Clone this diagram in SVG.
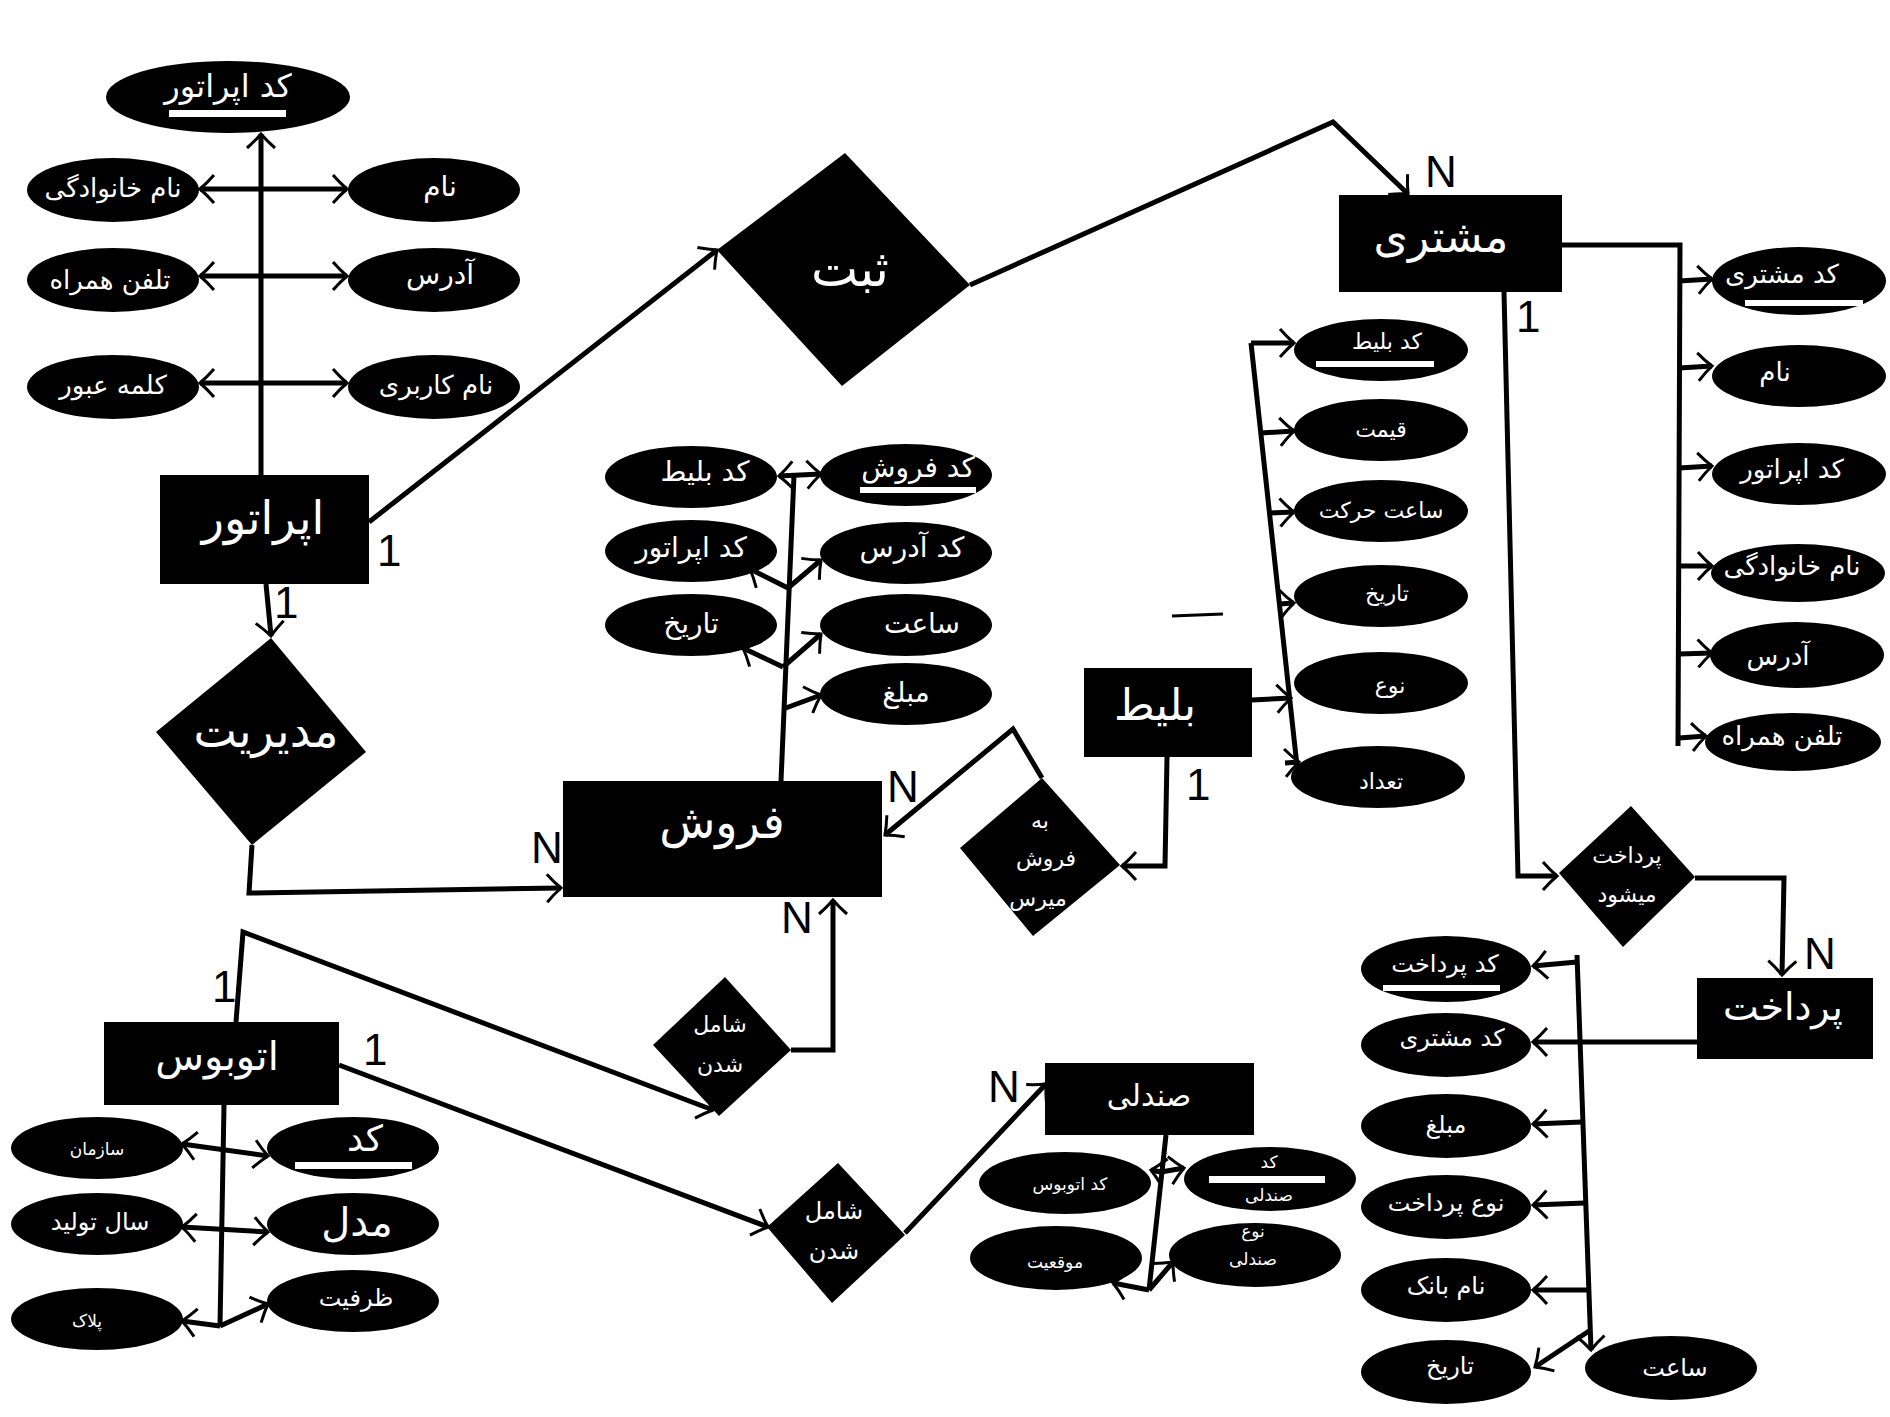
<svg xmlns="http://www.w3.org/2000/svg" width="1890" height="1417" viewBox="0 0 1890 1417">
<defs>
<marker id="a" viewBox="0 0 20 32" refX="17" refY="16" markerWidth="20" markerHeight="32" markerUnits="userSpaceOnUse" orient="auto-start-reverse">
<path d="M3,2 Q10,10 17,16 Q10,22 3,30" fill="none" stroke="#000" stroke-width="3"/>
</marker>
<style>
.c path{fill:none;stroke:#000;stroke-width:5;stroke-linejoin:miter}
.ar{marker-end:url(#a)}
.ab{marker-end:url(#a);marker-start:url(#a)}
ellipse,rect.n,polygon{fill:#000}
.t{fill:#fff;font-family:"DejaVu Sans",sans-serif;text-anchor:middle;dominant-baseline:central}
.u{fill:#fff}
.l{fill:#000;font-family:"Liberation Sans",sans-serif;font-size:44px}
</style>
</defs>
<rect width="1890" height="1417" fill="#fff"/>

<g id="connectors" class="c">
<!-- operator -->
<path class="ar" d="M261,475 L261,134"/>
<path class="ab" d="M200,189 L347,189"/>
<path class="ab" d="M200,276 L347,276"/>
<path class="ab" d="M200,383 L347,383"/>
<path class="ar" d="M369,522 L717,250"/>
<path class="ar" d="M970,285 L1333,122 L1408,194"/>
<path class="ar" d="M266,584 L271,636"/>
<path class="ar" d="M252,845 L249,893 L561,888"/>
<!-- sale -->
<path d="M781,781 L794,475"/>
<path class="ab" d="M779,476 L821,474"/>
<path class="ar" d="M788,588 L750,569"/>
<path class="ar" d="M788,588 L821,560"/>
<path class="ar" d="M783,667 L743,648"/>
<path class="ar" d="M783,667 L821,634"/>
<path class="ar" d="M783,709 L821,695"/>
<path class="ar" d="M1042,778 L1013,729 L885,835"/>
<path class="ar" d="M1167,757 L1165,866 L1122,866"/>
<!-- ticket -->
<path d="M1251,343 L1297,766"/>
<path class="ar" d="M1251,343 L1294,343"/>
<path class="ar" d="M1261,433 L1294,431"/>
<path class="ar" d="M1269,513 L1294,512"/>
<path class="ar" d="M1279,604 L1294,603"/>
<path class="ar" d="M1252,700 L1291,698"/>
<path class="ar" d="M1285,763 L1299,762"/>
<path d="M1172,616 L1223,614" style="stroke-width:3"/>
<!-- customer -->
<path d="M1562,245 L1680,245 L1678,746"/>
<path class="ar" d="M1679,281 L1712,279"/>
<path class="ar" d="M1679,368 L1712,366"/>
<path class="ar" d="M1679,468 L1712,466"/>
<path class="ar" d="M1679,566 L1712,566"/>
<path class="ar" d="M1679,654 L1712,653"/>
<path class="ar" d="M1679,738 L1706,736"/>
<path class="ar" d="M1504,292 L1518,876 L1557,876"/>
<path class="ar" d="M1695,878 L1784,878 L1782,975"/>
<!-- payment -->
<path class="ar" d="M1697,1042 L1533,1042"/>
<path class="ar" d="M1577,955 L1591,1350"/>
<path class="ar" d="M1577,962 L1533,966"/>
<path class="ar" d="M1582,1122 L1533,1124"/>
<path class="ar" d="M1585,1203 L1533,1205"/>
<path class="ar" d="M1588,1290 L1533,1290"/>
<path class="ar" d="M1589,1331 L1535,1367"/>
<!-- bus -->
<path class="ar" d="M236,1022 L243,932 L713,1110"/>
<path class="ar" d="M339,1065 L768,1227"/>
<path class="ar" d="M791,1050 L833,1050 L833,900"/>
<path class="ar" d="M905,1233 L1046,1084"/>
<path d="M224,1105 L220,1326"/>
<path class="ab" d="M182,1144 L268,1156"/>
<path class="ab" d="M182,1227 L268,1232"/>
<path class="ar" d="M220,1326 L182,1321"/>
<path class="ar" d="M220,1326 L268,1304"/>
<!-- seat -->
<path d="M1166,1135 L1149,1290"/>
<path class="ar" d="M1161,1172 L1184,1168"/>
<path class="ar" d="M1161,1172 L1151,1170"/>
<path class="ar" d="M1149,1290 L1113,1283"/>
<path class="ar" d="M1149,1290 L1173,1262"/>
</g>

<!-- operator entity and attributes -->
<g id="operator"><rect class="n" x="160" y="475" width="209" height="109"/><text class="t" x="263" y="518" font-size="46">اپراتور</text></g>
<g id="op-code"><ellipse cx="228" cy="97" rx="122" ry="36"/><text class="t" x="228" y="86" font-size="32">کد اپراتور</text><rect class="u" x="169" y="110" width="117" height="7"/></g>
<g id="op-family"><ellipse cx="113" cy="190" rx="86" ry="32"/><text class="t" x="113" y="188" font-size="26">نام خانوادگی</text></g>
<g id="op-name"><ellipse cx="434" cy="190" rx="86" ry="32"/><text class="t" x="440" y="186" font-size="28">نام</text></g>
<g id="op-phone"><ellipse cx="113" cy="280" rx="86" ry="32"/><text class="t" x="110" y="280" font-size="26">تلفن همراه</text></g>
<g id="op-address"><ellipse cx="434" cy="280" rx="86" ry="32"/><text class="t" x="440" y="274" font-size="28">آدرس</text></g>
<g id="op-password"><ellipse cx="113" cy="387" rx="86" ry="32"/><text class="t" x="113" y="385" font-size="26">کلمه عبور</text></g>
<g id="op-username"><ellipse cx="434" cy="387" rx="86" ry="32"/><text class="t" x="436" y="385" font-size="26">نام کاربری</text></g>
<text class="l" x="377" y="566">1</text>
<text class="l" x="274" y="618">1</text>

<!-- register relation -->
<g id="register"><polygon points="845,153 970,285 842,386 717,250"/><text class="t" x="850" y="269" font-size="50">ثبت</text></g>
<text class="l" x="1425" y="187">N</text>

<!-- manage relation -->
<g id="manage"><polygon points="271,638 366,752 252,845 156,732"/><text class="t" x="266" y="731" font-size="46">مدیریت</text></g>
<text class="l" x="531" y="863">N</text>

<!-- sale -->
<g id="sale"><rect class="n" x="563" y="781" width="319" height="116"/><text class="t" x="722" y="822" font-size="46">فروش</text></g>
<g id="sale-ticket"><ellipse cx="691" cy="477" rx="86" ry="31"/><text class="t" x="705" y="471" font-size="28">کد بلیط</text></g>
<g id="sale-code"><ellipse cx="906" cy="475" rx="86" ry="31"/><text class="t" x="918" y="467" font-size="28">کد فروش</text><rect class="u" x="860" y="487" width="116" height="6"/></g>
<g id="sale-op"><ellipse cx="691" cy="551" rx="86" ry="31"/><text class="t" x="691" y="547" font-size="28">کد اپراتور</text></g>
<g id="sale-addr"><ellipse cx="906" cy="553" rx="86" ry="31"/><text class="t" x="912" y="547" font-size="28">کد آدرس</text></g>
<g id="sale-date"><ellipse cx="691" cy="625" rx="86" ry="31"/><text class="t" x="691" y="623" font-size="28">تاریخ</text></g>
<g id="sale-time"><ellipse cx="906" cy="625" rx="86" ry="31"/><text class="t" x="922" y="623" font-size="28">ساعت</text></g>
<g id="sale-amount"><ellipse cx="906" cy="694" rx="86" ry="31"/><text class="t" x="906" y="692" font-size="28">مبلغ</text></g>
<text class="l" x="887" y="802">N</text>
<text class="l" x="781" y="933">N</text>

<!-- sold relation -->
<g id="sold"><polygon points="1042,778 1120,865 1033,936 960,848"/><text class="t" x="1040" y="820" font-size="22">به</text><text class="t" x="1046" y="858" font-size="22">فروش</text><text class="t" x="1038" y="898" font-size="22">میرس</text></g>
<text class="l" x="1186" y="800">1</text>

<!-- ticket -->
<g id="ticket"><rect class="n" x="1084" y="668" width="168" height="89"/><text class="t" x="1155" y="704" font-size="44">بلیط</text></g>
<g id="t-code"><ellipse cx="1381" cy="350" rx="87" ry="31"/><text class="t" x="1387" y="341" font-size="22">کد بلیط</text><rect class="u" x="1316" y="361" width="118" height="6"/></g>
<g id="t-price"><ellipse cx="1381" cy="430" rx="87" ry="31"/><text class="t" x="1381" y="429" font-size="22">قیمت</text></g>
<g id="t-depart"><ellipse cx="1381" cy="511" rx="87" ry="31"/><text class="t" x="1381" y="510" font-size="22">ساعت حرکت</text></g>
<g id="t-date"><ellipse cx="1381" cy="596" rx="87" ry="31"/><text class="t" x="1387" y="593" font-size="22">تاریخ</text></g>
<g id="t-type"><ellipse cx="1381" cy="683" rx="87" ry="31"/><text class="t" x="1390" y="685" font-size="22">نوع</text></g>
<g id="t-count"><ellipse cx="1378" cy="777" rx="87" ry="31"/><text class="t" x="1381" y="781" font-size="22">تعداد</text></g>

<!-- customer -->
<g id="customer"><rect class="n" x="1339" y="195" width="223" height="97"/><text class="t" x="1441" y="236" font-size="44">مشتری</text></g>
<text class="l" x="1516" y="332">1</text>
<g id="c-code"><ellipse cx="1799" cy="281" rx="87" ry="34"/><text class="t" x="1782" y="274" font-size="26">کد مشتری</text><rect class="u" x="1745" y="300" width="118" height="6"/></g>
<g id="c-name"><ellipse cx="1799" cy="376" rx="87" ry="31"/><text class="t" x="1775" y="372" font-size="26">نام</text></g>
<g id="c-op"><ellipse cx="1799" cy="474" rx="87" ry="31"/><text class="t" x="1792" y="469" font-size="26">کد اپراتور</text></g>
<g id="c-family"><ellipse cx="1798" cy="573" rx="87" ry="29"/><text class="t" x="1792" y="566" font-size="26">نام خانوادگی</text></g>
<g id="c-address"><ellipse cx="1797" cy="655" rx="87" ry="33"/><text class="t" x="1778" y="656" font-size="26">آدرس</text></g>
<g id="c-phone"><ellipse cx="1793" cy="742" rx="88" ry="29"/><text class="t" x="1782" y="736" font-size="26">تلفن همراه</text></g>

<!-- pays relation -->
<g id="pays"><polygon points="1631,806 1695,877 1623,947 1559,873"/><text class="t" x="1627" y="855" font-size="22">پرداخت</text><text class="t" x="1627" y="894" font-size="22">میشود</text></g>
<text class="l" x="1804" y="969">N</text>

<!-- payment -->
<g id="payment"><rect class="n" x="1697" y="978" width="176" height="81"/><text class="t" x="1783" y="1007" font-size="38">پرداخت</text></g>
<g id="p-code"><ellipse cx="1446" cy="969" rx="85" ry="33"/><text class="t" x="1445" y="964" font-size="24">کد پرداخت</text><rect class="u" x="1383" y="985" width="117" height="6"/></g>
<g id="p-cust"><ellipse cx="1446" cy="1045" rx="85" ry="32"/><text class="t" x="1452" y="1038" font-size="24">کد مشتری</text></g>
<g id="p-amount"><ellipse cx="1446" cy="1126" rx="85" ry="32"/><text class="t" x="1446" y="1125" font-size="24">مبلغ</text></g>
<g id="p-type"><ellipse cx="1446" cy="1207" rx="85" ry="32"/><text class="t" x="1446" y="1203" font-size="24">نوع پرداخت</text></g>
<g id="p-bank"><ellipse cx="1446" cy="1290" rx="85" ry="32"/><text class="t" x="1446" y="1286" font-size="24">نام بانک</text></g>
<g id="p-date"><ellipse cx="1446" cy="1372" rx="85" ry="32"/><text class="t" x="1450" y="1366" font-size="24">تاریخ</text></g>
<g id="p-time"><ellipse cx="1671" cy="1368" rx="86" ry="32"/><text class="t" x="1675" y="1368" font-size="24">ساعت</text></g>

<!-- bus -->
<g id="bus"><rect class="n" x="104" y="1022" width="235" height="83"/><text class="t" x="217" y="1056" font-size="40">اتوبوس</text></g>
<text class="l" x="212" y="1002">1</text>
<text class="l" x="363" y="1065">1</text>
<g id="b-org"><ellipse cx="97" cy="1148" rx="86" ry="31"/><text class="t" x="97" y="1149" font-size="17">سازمان</text></g>
<g id="b-code"><ellipse cx="353" cy="1148" rx="86" ry="31"/><text class="t" x="365" y="1138" font-size="36">کد</text><rect class="u" x="295" y="1162" width="117" height="7"/></g>
<g id="b-year"><ellipse cx="97" cy="1224" rx="86" ry="31"/><text class="t" x="100" y="1222" font-size="24">سال تولید</text></g>
<g id="b-model"><ellipse cx="353" cy="1224" rx="86" ry="31"/><text class="t" x="357" y="1222" font-size="40">مدل</text></g>
<g id="b-plate"><ellipse cx="97" cy="1319" rx="86" ry="31"/><text class="t" x="87" y="1321" font-size="17">پلاک</text></g>
<g id="b-capacity"><ellipse cx="353" cy="1301" rx="86" ry="31"/><text class="t" x="356" y="1298" font-size="24">ظرفیت</text></g>

<!-- includes relations -->
<g id="includes-sale"><polygon points="725,977 791,1050 719,1116 653,1045"/><text class="t" x="720" y="1024" font-size="22">شامل</text><text class="t" x="720" y="1064" font-size="22">شدن</text></g>
<g id="includes-seat"><polygon points="838,1163 905,1235 832,1303 767,1227"/><text class="t" x="834" y="1211" font-size="24">شامل</text><text class="t" x="834" y="1251" font-size="24">شدن</text></g>
<text class="l" x="988" y="1102">N</text>

<!-- seat -->
<g id="seat"><rect class="n" x="1045" y="1063" width="209" height="72"/><text class="t" x="1149" y="1095" font-size="30">صندلی</text></g>
<g id="s-bus"><ellipse cx="1065" cy="1183" rx="86" ry="31"/><text class="t" x="1070" y="1184" font-size="17">کد اتوبوس</text></g>
<g id="s-code"><ellipse cx="1270" cy="1179" rx="86" ry="32"/><text class="t" x="1269" y="1162" font-size="17">کد</text><rect class="u" x="1209" y="1176" width="116" height="7"/><text class="t" x="1269" y="1195" font-size="17">صندلی</text></g>
<g id="s-pos"><ellipse cx="1056" cy="1258" rx="86" ry="32"/><text class="t" x="1055" y="1262" font-size="17">موقعیت</text></g>
<g id="s-type"><ellipse cx="1255" cy="1255" rx="86" ry="32"/><text class="t" x="1253" y="1231" font-size="17">نوع</text><text class="t" x="1253" y="1259" font-size="17">صندلی</text></g>
</svg>
